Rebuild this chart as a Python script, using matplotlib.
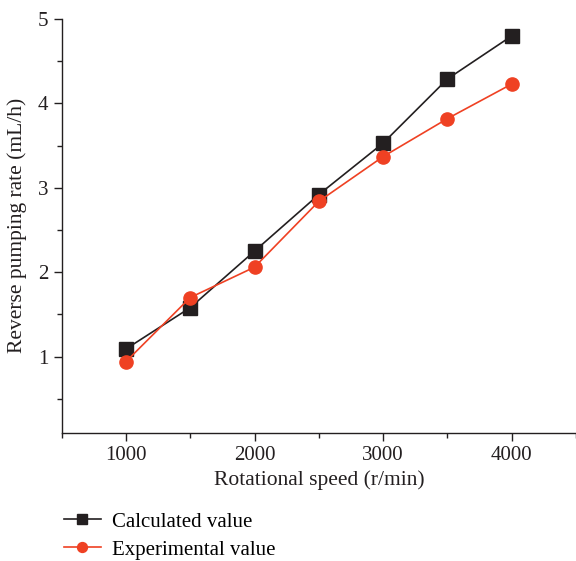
import matplotlib
matplotlib.use("Agg")
import matplotlib.pyplot as plt
from matplotlib.ticker import MultipleLocator

speed = [1000, 1500, 2000, 2500, 3000, 3500, 4000]
calculated = [1.09, 1.58, 2.25, 2.92, 3.53, 4.29, 4.80]
experimental = [0.94, 1.70, 2.06, 2.84, 3.37, 3.82, 4.23]

plt.rcParams["font.family"] = ["Liberation Serif", "DejaVu Serif"]

fig = plt.figure(figsize=(5.76, 5.61), dpi=100)
ax = fig.add_axes([0.107, 0.229, 0.893, 0.737])

ax.plot(speed, calculated, color="#231f20", marker="s", markersize=9.5, linewidth=1.2,
        label="Calculated value")
ax.plot(speed, experimental, color="#ef4123", marker="o", markersize=9.5, linewidth=1.2,
        label="Experimental value")

ax.set_xlim(500, 4500)
ax.set_ylim(0.1, 5)
ax.xaxis.set_major_locator(MultipleLocator(1000))
ax.xaxis.set_minor_locator(MultipleLocator(500))
ax.yaxis.set_major_locator(MultipleLocator(1))
ax.yaxis.set_minor_locator(MultipleLocator(0.5))

for s in ["top", "right"]:
    ax.spines[s].set_visible(False)
for s in ["left", "bottom"]:
    ax.spines[s].set_color("#231f20")
    ax.spines[s].set_linewidth(1.0)

ax.tick_params(which="major", length=6, width=1.0, colors="#231f20", labelsize=15)
ax.tick_params(which="minor", length=3.5, width=1.0, colors="#231f20")

ax.set_xlabel("Rotational speed (r/min)", fontsize=15.5, color="#231f20", labelpad=4)
ax.set_ylabel("Reverse pumping rate (mL/h)", fontsize=15.5, color="#231f20", labelpad=8)

fig.legend(loc="upper left", bbox_to_anchor=(0.097, 0.102), frameon=False,
           fontsize=15, handlelength=1.75, handletextpad=0.55, labelspacing=0.4,
           markerscale=0.75, borderaxespad=0)

fig.savefig("out.png", dpi=100)
